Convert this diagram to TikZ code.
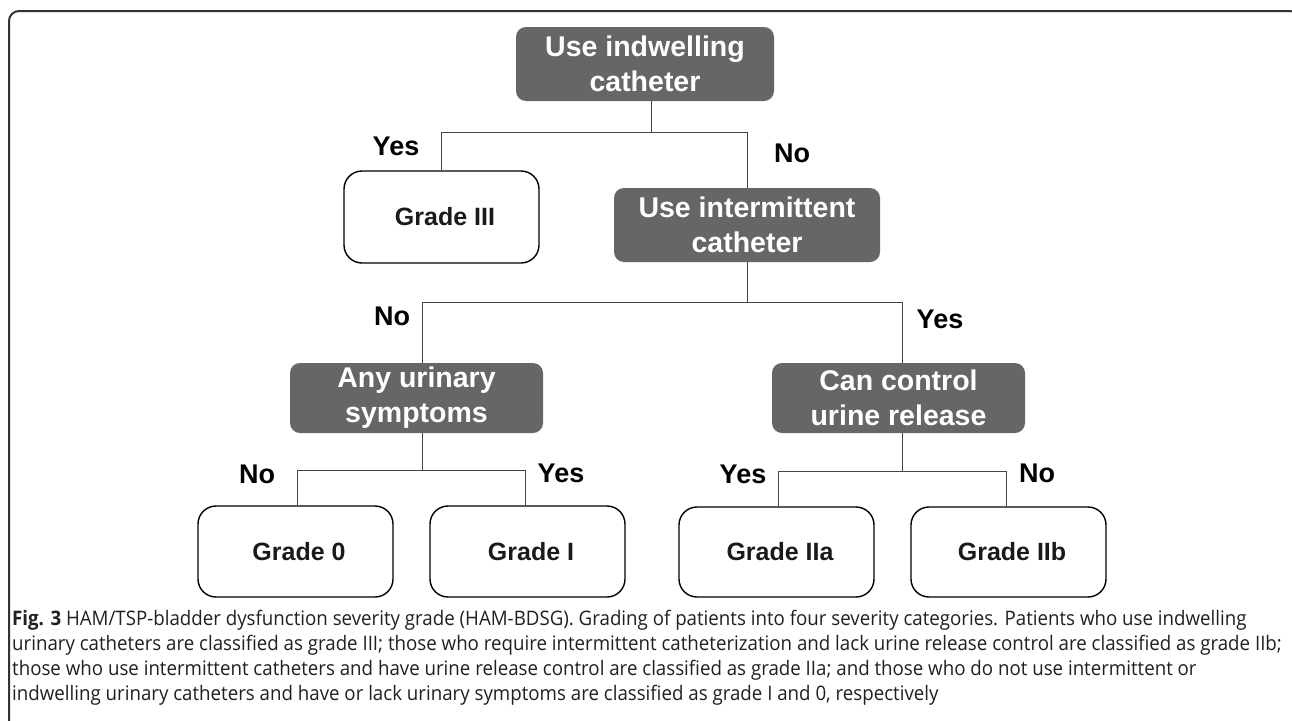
\documentclass[tikz,border=0pt]{standalone}
\usepackage{fontspec}
\setmainfont{Liberation Sans}
\newfontfamily\capfont[FakeStretch=0.935]{Open Sans}
\definecolor{boxgray}{HTML}{666666}
\definecolor{linegray}{HTML}{444444}
\definecolor{framegray}{HTML}{333333}
\definecolor{captext}{HTML}{231F20}
\definecolor{gradetext}{HTML}{1A1A1A}
\tikzset{
  darkbox/.style={fill=boxgray, rounded corners=10pt, text=white, align=center,
    inner sep=0pt, font=\bfseries\fontsize{28.5}{35}\selectfont},
  gradebox/.style={draw=black, line width=1.4pt, rounded corners=18pt, fill=white,
    inner sep=0pt, text=gradetext, font=\bfseries\fontsize{25}{30}\selectfont},
  lbl/.style={anchor=base, inner sep=0pt, font=\bfseries\fontsize{27}{32}\selectfont},
  conn/.style={draw=linegray, line width=1pt},
}
\newcommand{\gtxt}[1]{\hspace*{7pt}#1}
\begin{document}
\begin{tikzpicture}[x=1pt, y=-1pt]
\useasboundingbox (0,0) rectangle (1292,720);
\clip (0,0) rectangle (1292,720);
\fill[white] (0,0) rectangle (1292,720);
\draw[line width=2pt, framegray, rounded corners=10pt] (9,11) rectangle (1300,760);

% boxes
\node[darkbox, minimum width=258pt, minimum height=74pt] (top) at (645,64) {Use indwelling\\catheter};
\node[gradebox, minimum width=195pt, minimum height=92pt] (g3) at (441.5,217) {\gtxt{Grade III}};
\node[darkbox, minimum width=266pt, minimum height=74pt] (inter) at (747,225) {Use intermittent\\catheter};
\node[darkbox, minimum width=253pt, minimum height=70pt] (any) at (416.5,398) {Any urinary\\symptoms};
\node[darkbox, minimum width=253pt, minimum height=70pt] (ctrl) at (898.5,398) {Can control\\urine release};
\node[gradebox, minimum width=195pt, minimum height=91pt] (g0) at (295.5,551.5) {\gtxt{Grade 0}};
\node[gradebox, minimum width=195pt, minimum height=91pt] (g1) at (527.5,551.5) {\gtxt{Grade I}};
\node[gradebox, minimum width=195pt, minimum height=90pt] (g2a) at (776.5,552) {\gtxt{Grade IIa}};
\node[gradebox, minimum width=195pt, minimum height=90pt] (g2b) at (1008.5,552) {\gtxt{Grade IIb}};

% junction coordinates
\coordinate (h1) at (651,132);
\coordinate (l1) at (441,132);
\coordinate (r1) at (747,132);
\coordinate (h2) at (747,302);
\coordinate (l2) at (422,302);
\coordinate (r2) at (902,302);
\coordinate (h3) at (422,470);
\coordinate (l3) at (297,470);
\coordinate (r3) at (525,470);
\coordinate (h4) at (902,471);
\coordinate (l4) at (778,471);
\coordinate (r4) at (1006,471);

% connectors
\draw[conn] (h1 |- top.south) -- (h1);
\draw[conn] (l1 |- g3.north) -- (l1) -- (r1) -- (r1 |- inter.north);
\draw[conn] (h2 |- inter.south) -- (h2);
\draw[conn] (l2 |- any.north) -- (l2) -- (r2) -- (r2 |- ctrl.north);
\draw[conn] (h3 |- any.south) -- (h3);
\draw[conn] (l3 |- g0.north) -- (l3) -- (r3) -- (r3 |- g1.north);
\draw[conn] (h4 |- ctrl.south) -- (h4);
\draw[conn] (l4 |- g2a.north) -- (l4) -- (r4) -- (r4 |- g2b.north);

% labels
\node[lbl] (y1) at (396,155) {Yes};
\node[lbl] (n1) at (792,162) {No};
\node[lbl] (n2) at (392,325) {No};
\node[lbl] (y2) at (940,328) {Yes};
\node[lbl] (n3) at (257,483) {No};
\node[lbl] (y3) at (561,482) {Yes};
\node[lbl] (y4) at (743,483) {Yes};
\node[lbl] (n4) at (1037,482) {No};

% caption
\node[anchor=base west, inner sep=0pt, align=left, text=captext,
  font=\capfont\fontsize{20}{25}\selectfont] (cap) at (12,700)
{\textbf{Fig. 3} HAM/TSP-bladder dysfunction severity grade (HAM-BDSG). Grading of patients into four severity categories. Patients who use indwelling\\
urinary catheters are classified as grade III; those who require intermittent catheterization and lack urine release control are classified as grade IIb;\\
those who use intermittent catheters and have urine release control are classified as grade IIa; and those who do not use intermittent or\\
indwelling urinary catheters and have or lack urinary symptoms are classified as grade I and 0, respectively};
\end{tikzpicture}
\end{document}
